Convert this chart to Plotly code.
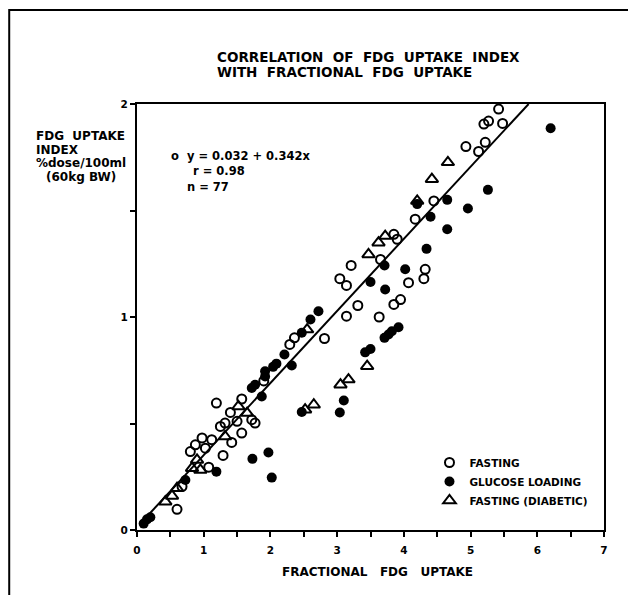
import plotly.graph_objects as go

# ---- data ----
fasting_x = [5.42, 5.20, 5.27, 5.48, 4.93, 5.12, 5.22, 4.45, 4.17, 3.85, 3.90, 3.65,
             4.32, 4.30, 4.07, 3.95, 3.85, 3.63, 3.21, 3.04, 3.14, 3.31, 3.14, 2.81,
             2.36, 2.29, 1.19, 1.57, 1.40, 1.72, 1.77, 1.50, 1.25, 1.32, 1.57, 1.42,
             1.12, 0.975, 0.875, 0.80, 1.025, 1.29, 1.075, 0.675, 0.60, 1.90]
fasting_y = [1.976, 1.906, 1.92, 1.909, 1.80, 1.777, 1.82, 1.545, 1.459, 1.388, 1.365, 1.27,
             1.224, 1.18, 1.161, 1.082, 1.059, 1.00, 1.242, 1.18, 1.148, 1.054, 1.004, 0.899,
             0.902, 0.871, 0.596, 0.615, 0.552, 0.518, 0.502, 0.51, 0.486, 0.502, 0.455, 0.411,
             0.424, 0.432, 0.40, 0.368, 0.384, 0.35, 0.295, 0.204, 0.097, 0.70]

glucose_x = [6.20, 5.26, 4.65, 4.96, 4.40, 4.65, 4.34, 4.20, 3.71, 4.02, 3.50, 3.72,
             3.92, 3.82, 3.77, 3.71, 3.50, 3.42, 2.72, 2.60, 2.47, 2.21, 2.32, 2.09,
             2.04, 1.92, 1.92, 1.77, 1.72, 1.87, 3.10, 3.04, 2.47, 1.97, 1.73, 2.02,
             1.19, 0.725, 0.10, 0.15, 0.20]
glucose_y = [1.886, 1.597, 1.55, 1.509, 1.471, 1.412, 1.32, 1.53, 1.242, 1.224, 1.164, 1.129,
             0.952, 0.933, 0.918, 0.902, 0.85, 0.834, 1.027, 0.988, 0.926, 0.824, 0.772, 0.781,
             0.766, 0.745, 0.721, 0.682, 0.667, 0.627, 0.608, 0.552, 0.554, 0.364, 0.334, 0.246,
             0.274, 0.235, 0.03, 0.05, 0.06]

diabetic_x = [4.66, 4.42, 4.20, 3.72, 3.62, 3.47, 3.45, 3.17, 3.05, 2.65, 2.52, 2.55,
              1.65, 1.32, 0.90, 0.825, 0.95, 0.60, 0.525, 0.425, 1.52]
diabetic_y = [1.726, 1.647, 1.545, 1.38, 1.349, 1.294, 0.769, 0.706, 0.682, 0.588, 0.565, 0.941,
              0.549, 0.439, 0.329, 0.29, 0.282, 0.196, 0.16, 0.133, 0.58]

# regression line endpoints as drawn in the picture
fit_x = [0.05, 5.87]
fit_y = [0.03, 2.0]

x_ticks = [0, 0.5, 1, 1.5, 2, 2.5, 3, 3.5, 4, 4.5, 5, 5.5, 6, 6.5, 7]
x_ticktext = ["0", "", "1", "", "2", "", "3", "", "4", "", "5", "", "6", "", "7"]
y_ticks = [0, 0.5, 1, 1.5, 2]
y_ticktext = ["0", "", "1", "", "2"]

title_lines = ["CORRELATION  OF  FDG  UPTAKE  INDEX", "WITH  FRACTIONAL  FDG  UPTAKE"]
ytitle_lines = ["FDG  UPTAKE", "INDEX", "%dose/100ml", "(60kg BW)"]
xtitle = "FRACTIONAL   FDG   UPTAKE"
stats_lines = ["o  y = 0.032 + 0.342x", "r = 0.98", "n = 77"]

FONT = "DejaVu Sans"


def bold(s):
    return "<b>%s</b>" % s if s else ""


# page-pixel -> paper helpers (plot area on page: x 136.7..603.3, y 104..530)
def xp(px):
    return (px - 136.7) / 466.7


def yp(py):
    return (530 - py) / 426


fig = go.Figure()
fig.add_trace(go.Scatter(x=fit_x, y=fit_y, mode="lines",
                         line=dict(color="black", width=2), showlegend=False))
fig.add_trace(go.Scatter(x=fasting_x, y=fasting_y, mode="markers", name=bold("FASTING"),
                         marker=dict(symbol="circle-open", size=9, color="black",
                                     line=dict(width=2, color="black"))))
fig.add_trace(go.Scatter(x=glucose_x, y=glucose_y, mode="markers",
                         name=bold("GLUCOSE LOADING"),
                         marker=dict(symbol="circle", size=10, color="black")))
fig.add_trace(go.Scatter(x=diabetic_x, y=diabetic_y, mode="markers",
                         name=bold("FASTING (DIABETIC)"),
                         marker=dict(symbol="triangle-up-open", size=11, color="black",
                                     line=dict(width=2, color="black"))))

axis_common = dict(showgrid=False, zeroline=False, showline=True, linecolor="black",
                   linewidth=2, mirror=True, ticks="outside", ticklen=5, tickwidth=2,
                   tickcolor="black",
                   tickfont=dict(family=FONT, size=10.5, color="black"))
fig.update_xaxes(range=[0, 7], tickmode="array", tickvals=x_ticks,
                 ticktext=[bold(t) for t in x_ticktext], ticklabelstandoff=4, **axis_common)
fig.update_yaxes(range=[0, 2], tickmode="array", tickvals=y_ticks,
                 ticktext=[bold(t) for t in y_ticktext], **axis_common)

annots = []
# chart title, two left-aligned lines
for txt, py in zip(title_lines, [57, 72]):
    annots.append(dict(text=bold(txt), x=xp(215), y=yp(py), xanchor="left",
                       yanchor="middle", font=dict(size=13.5)))
# y-axis title block
for txt, px, py in zip(ytitle_lines, [34, 34, 34, 44], [136, 149.5, 163, 176.5]):
    annots.append(dict(text=bold(txt), x=xp(px), y=yp(py), xanchor="left",
                       yanchor="middle", font=dict(size=12)))
# x-axis title
annots.append(dict(text=bold(xtitle), x=xp(377), y=yp(572), xanchor="center",
                   yanchor="middle", font=dict(size=12)))
# regression statistics
for txt, px, py in zip(stats_lines, [169, 191, 185], [156, 171, 186.5]):
    annots.append(dict(text=bold(txt), x=xp(px), y=yp(py), xanchor="left",
                       yanchor="middle", font=dict(size=11.5)))

for a in annots:
    a.update(xref="paper", yref="paper", showarrow=False)
    a["font"].update(family=FONT, color="black")
fig.update_layout(annotations=annots)

# outer border around whole figure
fig.add_shape(type="rect", xref="paper", yref="paper",
              x0=xp(9), x1=xp(630), y0=yp(620), y1=yp(10),
              line=dict(color="black", width=2))

fig.update_layout(
    width=628, height=587,
    margin=dict(l=129, r=32, t=96, b=65),
    paper_bgcolor="white", plot_bgcolor="white",
    font=dict(family=FONT, color="black"),
    legend=dict(x=xp(429), y=yp(448), xanchor="left", yanchor="top",
                bgcolor="rgba(0,0,0,0)", tracegroupgap=0,
                font=dict(family=FONT, size=10.5, color="black")),
)

fig.write_html("out.html")
